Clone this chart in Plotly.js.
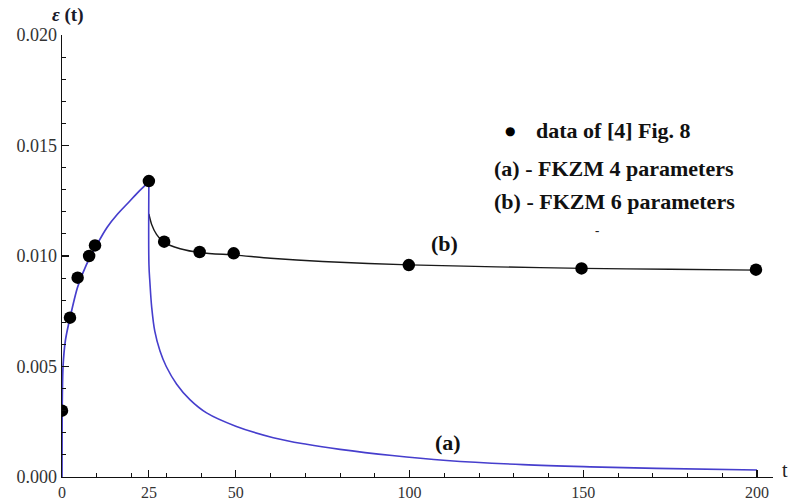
<!DOCTYPE html>
<html>
<head>
<meta charset="utf-8">
<script src="https://cdn.plot.ly/plotly-3.0.1.min.js"></script>
<style>html,body{margin:0;padding:0;background:#fff;}#chart{width:791px;height:502px;}</style>
</head>
<body>
<div id="chart"></div>
<script>
// Experimental data of [4] Fig. 8
const dataT   = [0, 2.3, 4.5, 7.8, 9.5, 25, 29.4, 39.6, 49.4, 99.8, 149.5, 199.7];
const dataEps = [0.0030, 0.00721, 0.00902, 0.01000, 0.01048, 0.01339, 0.01065, 0.01018, 0.01012, 0.00959, 0.00944, 0.00938];

// Curve (a) - FKZM 4 parameters: loading and recovery branches
const curveALoadT   = [0, 0.05, 0.3, 1, 2.3, 4.5, 7, 10, 13, 16, 19, 22, 25];
const curveALoadEps = [0, 0.0030, 0.0050, 0.0062, 0.0072, 0.0086, 0.0096, 0.0105, 0.0113, 0.0119, 0.0124, 0.0129, 0.01335];
const curveARecT    = [25, 25.02, 25.3, 25.8, 26.7, 28.2, 30, 33, 36.8, 41.6, 50, 60.8, 70.4, 80, 95, 110.7, 132.7, 152, 171, 200];
const curveARecEps  = [0.01335, 0.0096, 0.0088, 0.0077, 0.0066, 0.0057, 0.0050, 0.0042, 0.0035, 0.0029, 0.0023, 0.00178, 0.00148, 0.00125, 0.00097, 0.00075, 0.00056, 0.00046, 0.00039, 0.00032];

// Curve (b) - FKZM 6 parameters
const curveBT   = [25, 25.8, 27.2, 29.2, 34, 40, 50, 60, 75, 100, 125, 150, 175, 200];
const curveBEps = [0.0119, 0.01143, 0.01098, 0.01063, 0.01033, 0.01015, 0.01004, 0.00990, 0.00975, 0.00960, 0.00951, 0.00944, 0.00940, 0.00936];

// Axis ticks
const xTickVals = [0, 25, 50, 100, 150, 200];
const xTickText = ['0', '25', '50', '100', '150', '200'];
const xMinorVals = [10, 20, 30, 40, 60, 70, 80, 90, 110, 120, 130, 140, 160, 170, 180, 190];
const yTickVals = [0, 0.005, 0.010, 0.015, 0.020];
const yTickText = ['0.000', '0.005', '0.010', '0.015', '0.020'];

const serif = 'Liberation Serif, Times New Roman, serif';
const blue = 'rgb(70,62,205)';

const traces = [
  {x: curveBT, y: curveBEps, mode: 'lines', line: {color: '#1a1a1a', width: 1.4, shape: 'spline', smoothing: 0.8}, hoverinfo: 'skip'},
  {x: curveALoadT, y: curveALoadEps, mode: 'lines', line: {color: blue, width: 1.7, shape: 'spline', smoothing: 0.8}, hoverinfo: 'skip'},
  {x: curveARecT, y: curveARecEps, mode: 'lines', line: {color: blue, width: 1.6, shape: 'spline', smoothing: 1}, hoverinfo: 'skip'},
  {x: dataT, y: dataEps, mode: 'markers', marker: {color: '#000', size: 12.5}, hoverinfo: 'skip'}
];

const L = 62, T = 35, W = 711, H = 442;
const pxX = X => (X - L) / W;
const pxY = Y => (T + H - Y) / H;

const layout = {
  width: 791, height: 502,
  margin: {l: L, r: 791 - L - W, t: T, b: 502 - T - H},
  paper_bgcolor: '#fff', plot_bgcolor: '#fff',
  showlegend: false,
  xaxis: {
    range: [0, 204.6], showgrid: false, zeroline: false,
    showline: true, linecolor: '#111', linewidth: 1.3,
    tickmode: 'array', tickvals: xTickVals, ticktext: xTickText,
    ticks: 'inside', ticklen: 7, tickwidth: 1.2, tickcolor: '#111',
    tickfont: {family: serif, size: 16, color: '#333'},
    minor: {tickmode: 'array', tickvals: xMinorVals, ticks: 'inside', ticklen: 4, tickwidth: 1, tickcolor: '#111', showgrid: false},
    automargin: false, fixedrange: true
  },
  yaxis: {
    range: [0, 0.02], showgrid: false, zeroline: false,
    showline: true, linecolor: '#111', linewidth: 1.3,
    tickmode: 'array', tickvals: yTickVals, ticktext: yTickText,
    ticks: 'inside', ticklen: 7, tickwidth: 1.2, tickcolor: '#111',
    tickfont: {family: serif, size: 18, color: '#333'},
    minor: {dtick: 0.001, tick0: 0, ticks: 'inside', ticklen: 4, tickwidth: 1, tickcolor: '#111', showgrid: false},
    automargin: false, fixedrange: true
  },
  annotations: [
    {xref: 'paper', yref: 'paper', x: pxX(68), y: pxY(15), text: '<b><i>ε</i> (t)</b>', showarrow: false, xanchor: 'center', yanchor: 'middle', font: {family: serif, size: 19, color: '#1a1a2a'}},
    {xref: 'paper', yref: 'paper', x: pxX(785), y: pxY(470), text: 't', showarrow: false, xanchor: 'center', yanchor: 'middle', font: {family: serif, size: 20, color: '#222'}},
    {xref: 'paper', yref: 'paper', x: pxX(510), y: pxY(131), text: '●', showarrow: false, xanchor: 'center', yanchor: 'middle', font: {family: 'DejaVu Sans', size: 12, color: '#000'}},
    {xref: 'paper', yref: 'paper', x: pxX(534), y: pxY(130), text: '<b>data of [4] Fig. 8</b>', showarrow: false, xanchor: 'left', yanchor: 'middle', font: {family: serif, size: 22, color: '#111'}},
    {xref: 'paper', yref: 'paper', x: pxX(492), y: pxY(168), text: '<b>(a) - FKZM 4 parameters</b>', showarrow: false, xanchor: 'left', yanchor: 'middle', font: {family: serif, size: 22, color: '#111'}},
    {xref: 'paper', yref: 'paper', x: pxX(492), y: pxY(201), text: '<b>(b) - FKZM 6 parameters</b>', showarrow: false, xanchor: 'left', yanchor: 'middle', font: {family: serif, size: 22, color: '#111'}},
    {xref: 'paper', yref: 'paper', x: pxX(597), y: pxY(230), text: '<b>-</b>', showarrow: false, xanchor: 'center', yanchor: 'middle', font: {family: serif, size: 13, color: '#222'}},
    {xref: 'x', yref: 'y', x: 110.2, y: 0.01056, text: '<b>(b)</b>', showarrow: false, xanchor: 'center', yanchor: 'middle', font: {family: serif, size: 22, color: '#111'}},
    {xref: 'x', yref: 'y', x: 111, y: 0.00157, text: '<b>(a)</b>', showarrow: false, xanchor: 'center', yanchor: 'middle', font: {family: serif, size: 22, color: '#111'}}
  ]
};

Plotly.newPlot('chart', traces, layout, {displayModeBar: false, staticPlot: true});
</script>
</body>
</html>
